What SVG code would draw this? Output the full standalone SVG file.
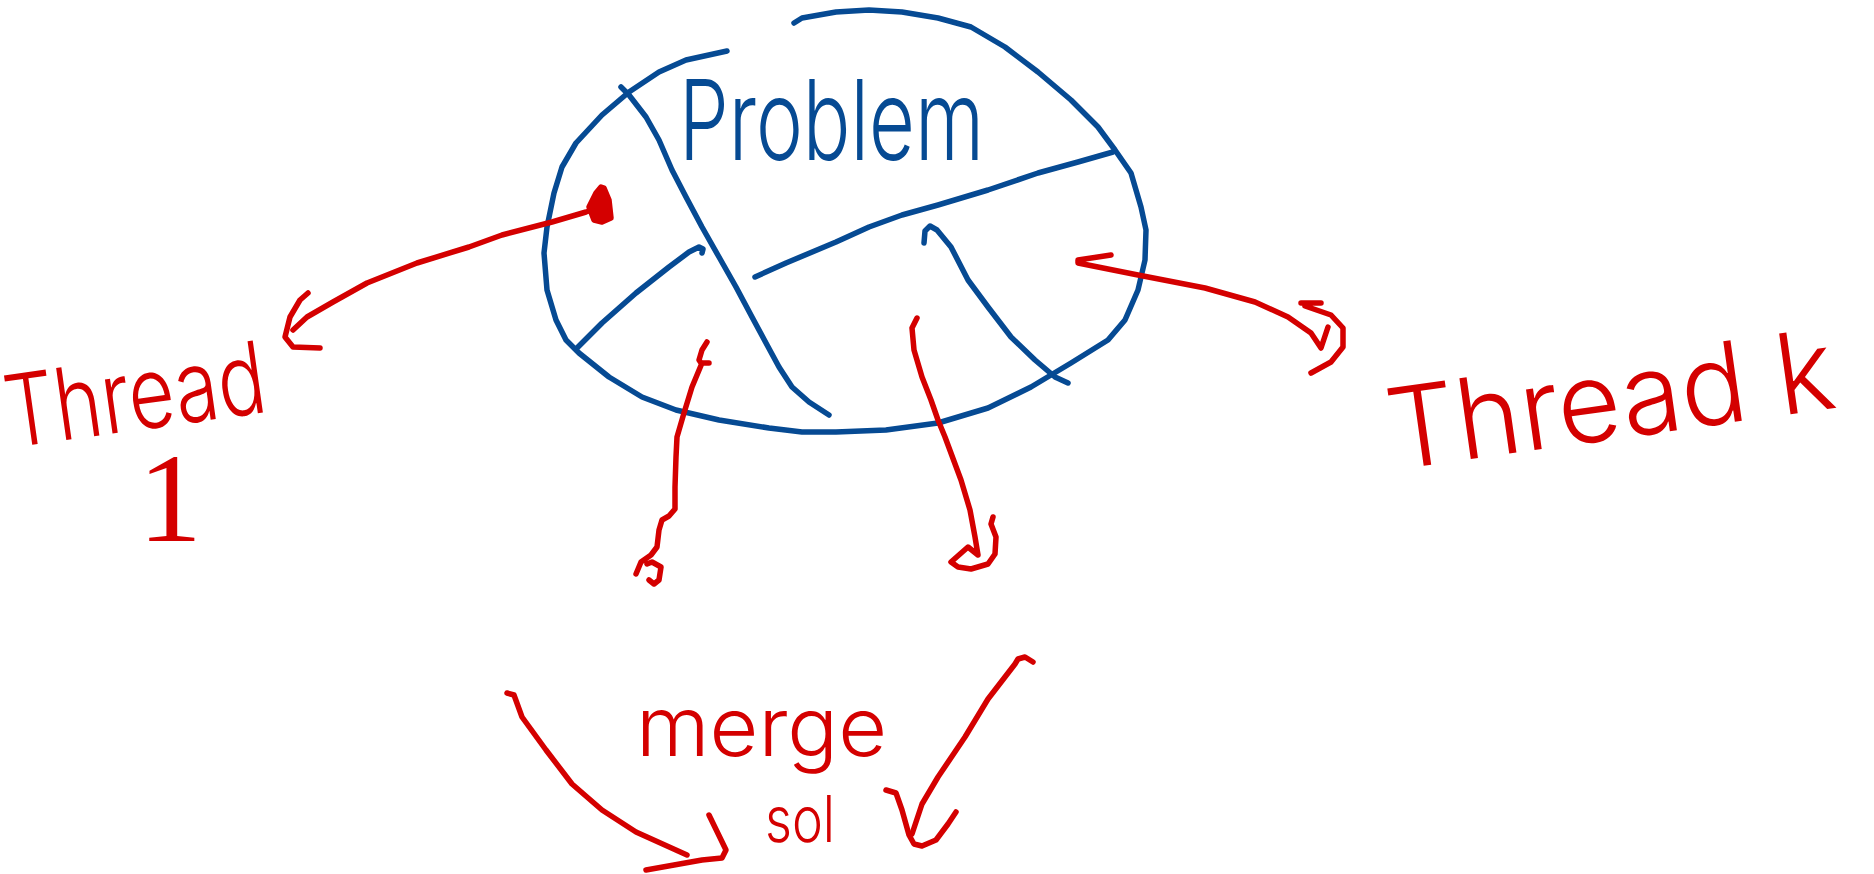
<svg xmlns="http://www.w3.org/2000/svg" width="1874" height="874" viewBox="0 0 1874 874">
<style>
.bl{fill:none;stroke:#064A93;stroke-width:5.5;stroke-linecap:round;stroke-linejoin:round}
.rd{fill:none;stroke:#D40000;stroke-width:5.5;stroke-linecap:round;stroke-linejoin:round}
.tb{fill:#064A93;font-family:"Inter","Open Sans","Liberation Sans",sans-serif;font-weight:300}
.tr{fill:#D40000;font-family:"Inter","Open Sans","Liberation Sans",sans-serif;font-weight:300}
</style>
<rect width="1874" height="874" fill="#fff"/>
<g id="problem">
<path class="bl" d="M794,23 L802,18 L836,12 L869,10 L902,12 L938,18 L971,27 L1005,47 L1038,72 L1071,100 L1098,127 L1115,150 L1131,173 L1141,207 L1146,230 L1145,260 L1138,290 L1125,320 L1108,340 L1071,363 L1031,387 L988,408 L938,423 L886,430 L836,432 L802,432 L769,428 L719,420 L676,410 L642,397 L609,377 L579,353 L566,340 L556,320 L547,290 L544,253 L547,227 L554,193 L562,167 L576,143 L602,115 L629,92 L659,72 L686,60 L727,51"/>
<path class="bl" d="M621,87 L629,95 L646,117 L659,140 L672,170 L686,197 L702,227 L719,257 L736,287 L752,317 L766,343 L779,367 L792,387 L809,402 L829,415"/>
<path class="bl" d="M577,348 L602,323 L636,293 L669,267 L689,252 L699,247 L703,249 L702,253"/>
<path class="bl" d="M755,277 L786,263 L836,242 L869,227 L902,215 L938,205 L988,190 L1038,173 L1078,162 L1113,152"/>
<path class="bl" d="M924,243 L925,231 L930,226 L937,230 L951,247 L968,280 L988,307 L1011,337 L1035,360 L1055,377 L1068,383"/>
<text class="tb" x="679" y="160" font-size="112" textLength="305" lengthAdjust="spacingAndGlyphs">Problem</text>
</g>
<g id="thread1">
<text class="tr" x="10" y="448" font-size="100" textLength="262" lengthAdjust="spacingAndGlyphs" transform="rotate(-8 10 448)">Thread</text>
<text x="138" y="541" font-size="128" fill="#D40000" font-family="'Liberation Serif',serif">1</text>
</g>
<g id="threadk">
<text class="tr" x="1393" y="470" font-size="112" textLength="450" lengthAdjust="spacingAndGlyphs" transform="rotate(-8 1393 470)">Thread k</text>
</g>
<g id="merge">
<text class="tr" x="636" y="756" font-size="82" textLength="251" lengthAdjust="spacingAndGlyphs">merge</text>
<text class="tr" x="765" y="842" font-size="64" textLength="70" lengthAdjust="spacingAndGlyphs">sol</text>
</g>
<g id="connectors">
<path class="rd" d="M601,187 L596,193 L589,207 L594,220 L602,222 L611,218 L609,200 L604,188 Z" style="fill:#D40000"/>
<path class="rd" d="M592,210 L586,212 L552,222 L502,235 L469,247 L417,263 L367,283 L333,302 L307,317 L293,330"/>
<path class="rd" d="M308,293 L300,300 L290,317 L285,337 L293,347 L320,348"/>
<path class="rd" d="M1111,255 L1078,260 L1078,263 L1138,275 L1205,288 L1255,302 L1288,317 L1311,333 L1321,348 L1328,327"/>
<path class="rd" d="M1301,303 L1321,303 M1305,306 L1331,315 L1343,328 L1343,347 L1331,362 L1311,373"/>
<path class="rd" d="M707,342 L702,350 L699,360 L701,363 L709,363 M702,363 L692,387 L684,413 L677,437 L676,457 L675,487 L675,509 L669,516 L662,520 L659,530 L657,547 L651,555 L641,562 L636,574 M647,564 L652,562 L661,567 L659,580 L654,584 L649,580"/>
<path class="rd" d="M917,318 L912,328 L914,350 L922,377 L931,400 L938,420 L945,437 L961,480 L970,510 L975,537 L978,555 L968,547 L951,562 L958,567 L971,569 L988,564 L995,554 L996,537 L991,524 L993,517"/>
<path class="rd" d="M507,693 L514,695 L522,717 L546,750 L572,784 L602,810 L636,832 L687,855"/>
<path class="rd" d="M709,815 L726,850 L722,858 L702,860 L646,870"/>
<path class="rd" d="M1033,662 L1025,657 L1018,659 L1015,664 L988,699 L965,737 L938,777 L922,804 L912,834"/>
<path class="rd" d="M886,790 L896,793 L902,810 L909,835 L914,844 L922,846 L936,840 L948,824 L956,812"/>
</g>
</svg>
